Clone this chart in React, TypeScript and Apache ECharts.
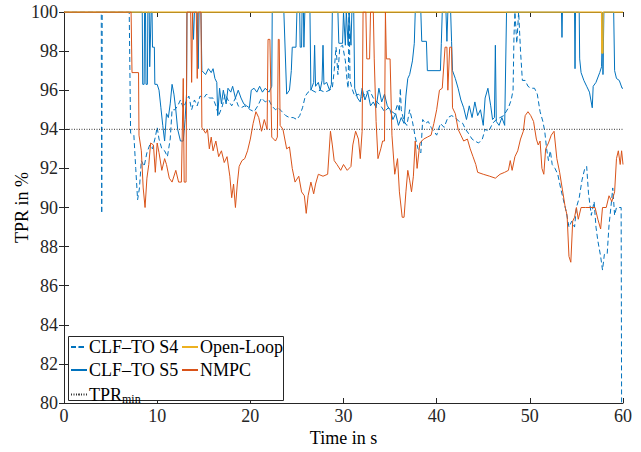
import React, { useEffect, useRef } from "react";
import * as echarts from "echarts";

// ---- data: [time in s, TPR in %] ----
const clfS4: [number, number][] = [
  [0, 100], [4.0, 100], [4.05, 89.7], [4.1, 100], [7.0, 100], [7.15, 93.8], [7.5, 93.7], [7.7, 92.0], [7.9, 90.4],
  [8.1, 91.0], [8.3, 92.4], [8.6, 92.1], [8.9, 92.8], [9.2, 93.2], [9.5, 93.0], [9.8, 93.6], [10.0, 94.1], [10.2, 93.5],
  [10.5, 93.0], [10.8, 92.9], [11.1, 92.6], [11.4, 93.5], [11.6, 95.0], [11.9, 95.0], [12.2, 95.2], [12.5, 95.5],
  [12.8, 95.1], [13.1, 95.4], [13.4, 95.7], [13.7, 95.0], [14.0, 95.5], [14.3, 95.2], [14.6, 95.7], [15.0, 95.6],
  [15.3, 95.8], [15.6, 95.6], [16.0, 95.6], [16.3, 95.2], [16.6, 94.7], [17.0, 95.2], [17.3, 95.8], [17.6, 95.5],
  [18.0, 95.2], [18.4, 95.6], [18.7, 95.2], [19.0, 95.1], [19.4, 95.2], [19.7, 95.1], [20.0, 95.0], [20.4, 94.9],
  [20.8, 95.2], [21.2, 95.6], [21.6, 95.4], [22.0, 95.5], [22.3, 95.2], [22.7, 95.0], [23.0, 95.1], [23.4, 94.9],
  [23.8, 94.7], [24.2, 94.6], [24.6, 94.6], [25.0, 94.5], [25.3, 94.7], [25.6, 95.1], [25.9, 95.7], [26.2, 95.9],
  [26.6, 96.0], [27.0, 95.9], [27.5, 96.0], [28.0, 95.9], [28.5, 96.0], [28.8, 96.1], [29.0, 97.0], [29.2, 98.2],
  [29.4, 96.8], [29.6, 98.2], [29.9, 98.3], [30.2, 97.5], [30.4, 96.4], [30.5, 96.1], [30.6, 100], [30.7, 96.5],
  [30.9, 96.1], [31.2, 95.7], [31.6, 95.8], [32.0, 95.6], [32.4, 95.9], [32.8, 96.0], [33.2, 95.6], [33.6, 95.4],
  [34.0, 95.2], [34.4, 94.9], [34.8, 95.1], [35.2, 94.9], [35.5, 94.8], [35.8, 95.3], [36.0, 94.9], [36.1, 96.1],
  [36.2, 95.0], [36.5, 94.4], [36.8, 94.2], [37.1, 95.0], [37.4, 94.4], [37.7, 93.6], [38.0, 93.0], [38.3, 92.8],
  [38.5, 94.5], [38.8, 94.3], [39.1, 94.4], [39.4, 94.1], [39.7, 93.9], [40.0, 93.7], [40.4, 94.3], [40.8, 94.1],
  [41.2, 94.6], [41.6, 94.7], [42.0, 94.6], [42.4, 94.4], [42.8, 94.3], [43.1, 94.0], [43.4, 93.8], [43.8, 93.5],
  [44.1, 93.4], [44.5, 93.3], [44.9, 93.5], [45.2, 94.0], [45.6, 93.9], [46.0, 94.3], [46.4, 94.5], [46.8, 94.6],
  [47.2, 94.7], [47.7, 95.1], [48.0, 95.5], [48.2, 96.0], [48.3, 98.8], [48.4, 100], [48.6, 98.4], [48.8, 100],
  [49.0, 98.0], [49.2, 96.5], [49.5, 96.5], [49.8, 96.2], [50.1, 96.1], [50.5, 96.1], [50.8, 95.8], [51.1, 94.9],
  [51.4, 94.4], [51.6, 93.9], [51.8, 93.0], [52.0, 92.4], [52.2, 92.9], [52.4, 92.2], [52.7, 92.0], [53.0, 91.7],
  [53.3, 91.0], [53.6, 90.4], [53.9, 89.8], [54.2, 89.0], [54.5, 89.3], [54.8, 89.0], [55.0, 90.0], [55.3, 90.5],
  [55.6, 91.4], [55.9, 92.0], [56.1, 92.1], [56.3, 90.7], [56.6, 89.6], [56.9, 90.3], [57.1, 89.0], [57.3, 88.3],
  [57.6, 87.5], [57.8, 86.8], [58.0, 87.6], [58.3, 87.6], [58.5, 89.1], [58.7, 90.0], [58.9, 91.0], [59.1, 89.6],
  [59.3, 90.0], [59.6, 90.0], [59.8, 90.0], [59.85, 80], [60, 80],
];

const clfS5: [number, number][] = [
  [0, 100], [8.4, 100], [8.45, 96.3], [8.6, 96.3], [8.65, 100], [8.75, 100], [8.8, 96.3], [8.95, 96.3], [9.0, 100],
  [9.15, 100], [9.2, 97.2], [9.35, 100], [9.45, 100], [9.5, 98.2], [9.7, 98.2], [9.75, 96.3], [10.0, 96.3],
  [10.2, 96.0], [10.4, 95.1], [10.6, 94.2], [10.8, 93.4], [11.0, 94.8], [11.2, 94.6], [11.4, 95.3], [11.6, 96.3],
  [11.8, 95.8], [12.0, 95.0], [12.2, 94.0], [12.5, 93.4], [12.8, 93.4], [13.0, 94.5], [13.15, 95.8], [13.2, 100],
  [13.8, 100], [13.9, 98.6], [14.0, 100], [14.3, 100], [14.4, 97.1], [14.5, 100], [14.7, 100], [14.8, 97.0],
  [15.2, 96.8], [15.5, 97.1], [15.8, 96.9], [16.0, 97.1], [16.2, 96.6], [16.4, 96.4], [16.5, 94.7], [16.7, 96.1],
  [16.9, 95.3], [17.1, 96.0], [17.4, 95.3], [17.6, 96.1], [17.9, 95.9], [18.1, 96.2], [18.4, 95.6], [18.7, 96.0],
  [19.0, 95.6], [19.3, 95.3], [19.6, 95.2], [19.9, 95.1], [20.1, 96.0], [20.4, 96.1], [20.7, 95.9], [21.0, 96.2],
  [21.3, 95.9], [21.6, 96.1], [22.0, 95.9], [22.3, 96.2], [22.35, 100], [23.6, 100], [23.9, 95.8], [24.2, 96.0],
  [24.4, 97.0], [24.5, 98.2], [24.9, 98.2], [25.0, 100], [25.3, 100], [25.35, 98.2], [25.5, 98.2], [25.55, 100],
  [25.7, 100], [25.75, 98.2], [25.85, 100], [26.4, 100], [26.5, 96.0], [26.8, 96.4], [26.9, 98.3], [27.0, 96.2],
  [27.3, 96.4], [27.5, 96.0], [27.7, 96.5], [27.8, 98.3], [27.9, 96.3], [28.2, 96.4], [28.5, 96.0], [28.7, 96.3],
  [28.8, 100], [29.4, 100], [29.5, 98.4], [29.9, 98.4], [30.0, 100], [30.2, 98.3], [30.3, 100], [30.5, 98.3],
  [30.6, 100], [30.8, 98.3], [30.9, 100], [31.1, 100], [31.2, 96.1], [31.5, 95.6], [31.8, 95.4], [32.0, 96.1],
  [32.3, 95.5], [32.6, 95.9], [32.9, 95.2], [33.2, 95.4], [33.5, 95.1], [33.8, 96.1], [34.1, 95.4], [34.4, 95.8],
  [34.7, 95.2], [35.0, 95.0], [35.3, 94.5], [35.6, 94.8], [35.9, 94.2], [36.2, 94.6], [36.5, 94.3], [36.7, 95.7],
  [36.9, 96.6], [37.1, 96.8], [37.4, 97.5], [37.6, 98.4], [37.7, 100], [38.3, 100], [38.4, 98.5], [38.9, 98.5],
  [39.0, 97.0], [40.4, 97.0], [40.5, 98.4], [40.6, 100], [41.0, 100], [41.1, 98.5], [41.2, 100], [41.5, 100],
  [41.6, 98.5], [41.7, 97.0], [42.0, 96.6], [42.3, 96.1], [42.6, 95.5], [42.9, 95.1], [43.2, 94.5], [43.5, 95.2],
  [43.8, 94.6], [44.1, 95.4], [44.4, 94.7], [44.7, 95.0], [45.0, 94.2], [45.2, 95.6], [45.5, 96.1], [45.8, 95.2],
  [46.0, 94.5], [46.2, 94.6], [46.3, 98.3], [46.4, 94.4], [46.7, 94.2], [47.0, 94.6], [47.3, 94.2], [47.5, 100],
  [53.4, 100], [53.45, 98.7], [53.5, 100], [54.8, 100], [54.85, 97.1], [54.9, 100], [55.3, 100], [55.35, 97.6],
  [55.5, 96.9], [55.8, 96.5], [56.1, 96.2], [56.4, 95.9], [56.7, 95.1], [56.8, 96.2], [57.1, 96.4], [57.5, 96.9],
  [57.7, 97.2], [57.8, 100], [57.85, 96.8], [57.95, 100], [59.0, 100], [59.1, 97.0], [59.3, 96.6], [59.6, 96.5],
  [59.9, 96.1], [60, 96.1],
];

const openLoop: [number, number][] = [
  [0, 100], [57.7, 100], [57.72, 97.9], [57.85, 97.9], [57.87, 100], [60, 100],
];

const nmpc: [number, number][] = [
  [0, 100], [7.2, 100], [7.3, 96.9], [8.0, 96.9], [8.05, 93.7], [8.3, 92.9], [8.5, 91], [8.7, 90], [8.9, 91.5],
  [9.1, 92.2], [9.3, 93.3], [9.6, 93.2], [9.8, 91.8], [10.0, 93.3], [10.2, 92.8], [10.5, 91.9], [10.8, 92.5],
  [11.0, 92.2], [11.3, 91.5], [11.6, 91.3], [12.0, 91.9], [12.3, 91.3], [12.6, 91.3], [12.8, 96.6], [12.9, 91.3],
  [13.1, 91.3], [13.2, 100], [13.6, 100], [13.7, 96.4], [13.8, 100], [14.2, 100], [14.3, 96.6], [14.4, 100],
  [14.7, 100], [14.8, 94.1], [15.2, 93.8], [15.4, 94.0], [15.6, 93.0], [15.8, 93.6], [16.0, 92.9], [16.3, 93.4],
  [16.6, 92.6], [16.9, 92.9], [17.2, 92.3], [17.5, 92.6], [17.8, 91.6], [18.0, 90.5], [18.2, 91.2], [18.4, 90.0],
  [18.6, 91.2], [18.8, 92.1], [19.1, 92.4], [19.4, 92.5], [19.7, 92.9], [20.0, 93.5], [20.3, 94.3], [20.6, 94.9],
  [20.9, 94.6], [21.2, 93.9], [21.5, 94.5], [21.8, 94.0], [21.9, 98.6], [22.1, 98.6], [22.3, 93.6], [22.7, 93.4],
  [22.9, 93.6], [23.0, 98.6], [23.1, 98.6], [23.2, 94.2], [23.5, 94.0], [23.9, 93.0], [24.2, 93.1], [24.5, 92.0],
  [24.8, 91.3], [25.2, 91.6], [25.5, 90.8], [25.8, 90.6], [26.0, 89.7], [26.2, 90.6], [26.5, 91.3], [26.8, 90.7],
  [27.0, 91.2], [27.3, 91.7], [27.8, 91.6], [28.3, 91.7], [28.6, 93.9], [28.8, 93.2], [29.0, 92.4], [29.3, 92.2],
  [29.7, 91.9], [30.0, 92.2], [30.4, 91.9], [30.8, 92.1], [31.0, 93.2], [31.3, 93.9], [31.6, 93.5], [31.8, 92.5],
  [32.0, 93.9], [32.1, 100], [32.4, 100], [32.5, 97.6], [32.8, 97.6], [32.9, 100], [33.2, 100], [33.3, 97.6],
  [33.5, 94.4], [33.7, 92.5], [34.0, 93.0], [34.2, 93.4], [34.4, 93.4], [34.5, 100], [34.6, 97.6], [35.0, 97.6],
  [35.2, 93.7], [35.5, 91.7], [35.8, 92.5], [36.0, 90.8], [36.3, 89.5], [36.5, 89.5], [36.7, 90.8], [36.9, 91.9],
  [37.1, 91.4], [37.3, 90.8], [37.5, 91.6], [37.7, 93.4], [37.9, 92.0], [38.2, 93.3], [38.6, 93.5], [39.0, 93.6],
  [39.4, 93.7], [39.7, 94.3], [40.0, 95.0], [40.3, 96.0], [40.6, 96.1], [40.9, 98.2], [41.1, 98.2], [41.2, 96.0],
  [41.4, 98.2], [41.6, 98.2], [41.7, 95.1], [42.0, 94.8], [42.3, 94.0], [42.6, 93.7], [42.9, 93.4], [43.3, 93.5],
  [43.6, 93.0], [43.9, 92.6], [44.2, 92.2], [44.4, 91.8], [45.0, 91.7], [45.7, 91.6], [46.3, 91.5], [46.8, 91.7],
  [47.3, 91.8], [47.7, 91.9], [47.9, 92.4], [48.1, 91.9], [48.4, 92.6], [48.7, 92.9], [49.0, 93.5], [49.3, 93.9],
  [49.5, 94.7], [49.8, 94.9], [50.1, 94.7], [50.4, 94.4], [50.7, 93.5], [50.9, 93.2], [51.1, 93.4], [51.3, 92.0],
  [51.5, 91.7], [51.7, 93.0], [52.0, 93.3], [52.3, 93.7], [52.6, 93.9], [52.9, 92.5], [53.2, 91.8], [53.5, 90.9],
  [53.8, 90.0], [54.0, 89.6], [54.2, 87.5], [54.4, 87.2], [54.6, 89.3], [54.8, 89.5], [55.0, 90.0], [55.2, 89.4],
  [55.5, 90.0], [56.0, 90.0], [56.5, 90.0], [57.0, 90.0], [57.3, 89.4], [57.6, 88.9], [57.8, 90.0], [58.2, 90.0],
  [58.5, 90.6], [58.8, 90.3], [59.1, 90.8], [59.3, 92.5], [59.5, 92.9], [59.7, 92.2], [59.85, 92.9], [60, 92.2],
];

const tprMin: [number, number][] = [[0, 94], [60, 94]];

const seriesNames = ["CLF–TO S4", "CLF–TO S5", "TPRmin", "Open-Loop", "NMPC"];
const xRange = [0, 60];
const yRange = [80, 100];
const xStep = 10;
const yStep = 2;

const FONT = "Liberation Serif";
const FS = 18;
const AX = "#262626";
const BLUE = "#0072BD";
const ORANGE = "#D95319";
const YELLOW = "#EDB120";

export default function App() {
  const ref = useRef<HTMLDivElement>(null);
  useEffect(() => {
    if (!ref.current) return;
    const chart = echarts.init(ref.current, undefined, { renderer: "svg" });
    const axisCommon = {
      type: "value" as const,
      axisLine: { show: true, lineStyle: { color: AX, width: 1 } },
      axisTick: { show: true, inside: true, length: 5, lineStyle: { color: AX } },
      splitLine: { show: false },
    };
    const legendText = {
      fontFamily: FONT,
      fontSize: FS,
      color: "#000",
      lineHeight: 16,
      padding: [0, 0, 0, -3],
      rich: {
        a: { fontFamily: FONT, fontSize: FS, lineHeight: 16, color: "#000" },
        b: { fontFamily: FONT, fontSize: 12, lineHeight: 16, color: "#000", padding: [9, 0, 0, 0] },
      },
    };
    const legendFormatter = (n: string) => (n === "TPRmin" ? "{a|TPR}{b|min}" : n);
    chart.setOption({
      animation: false,
      grid: {
        left: 64, top: 12, right: 18, bottom: 49,
        containLabel: false,
        outerBoundsMode: "none",
      },
      xAxis: [
        {
          ...axisCommon,
          min: xRange[0],
          max: xRange[1],
          interval: xStep,
          name: "Time in s",
          nameLocation: "middle",
          nameGap: 26,
          nameMoveOverlap: false,
          nameTextStyle: { fontFamily: FONT, fontSize: FS, color: "#000" },
          axisLabel: { fontFamily: FONT, fontSize: FS, color: AX, margin: 4 },
        },
        {
          ...axisCommon,
          position: "top",
          min: xRange[0],
          max: xRange[1],
          interval: xStep,
          axisLabel: { show: false },
        },
      ],
      yAxis: [
        {
          ...axisCommon,
          min: yRange[0],
          max: yRange[1],
          interval: yStep,
          name: "TPR in %",
          nameLocation: "middle",
          nameGap: 33,
          nameMoveOverlap: false,
          nameTextStyle: { fontFamily: FONT, fontSize: FS, color: "#000" },
          axisLabel: { fontFamily: FONT, fontSize: FS, color: AX, margin: 6 },
        },
        {
          ...axisCommon,
          position: "right",
          min: yRange[0],
          max: yRange[1],
          interval: yStep,
          axisLabel: { show: false },
        },
      ],
      legend: [
        {
          data: [seriesNames[0], seriesNames[1], seriesNames[2]],
          orient: "vertical",
          left: 70,
          top: 338,
          itemWidth: 16,
          itemHeight: 2,
          itemGap: 5,
          padding: 0,
          formatter: legendFormatter,
          textStyle: legendText,
        },
        {
          data: [seriesNames[3], seriesNames[4]],
          orient: "vertical",
          left: 181,
          top: 338,
          itemWidth: 16,
          itemHeight: 2,
          itemGap: 5,
          padding: 0,
          formatter: legendFormatter,
          textStyle: legendText,
        },
      ],
      graphic: [
        {
          type: "rect",
          z: 3,
          shape: { x: 68.5, y: 336.5, width: 215, height: 64 },
          style: { fill: "#fff", stroke: AX, lineWidth: 1 },
        },
      ],
      series: [
        {
          name: seriesNames[0],
          type: "line",
          data: clfS4,
          showSymbol: false,
          symbol: "none",
          lineStyle: { color: BLUE, width: 1, type: [5, 3] },
          itemStyle: { color: BLUE },
        },
        {
          name: seriesNames[1],
          type: "line",
          data: clfS5,
          showSymbol: false,
          symbol: "none",
          lineStyle: { color: BLUE, width: 1 },
          itemStyle: { color: BLUE },
        },
        {
          name: seriesNames[2],
          type: "line",
          data: tprMin,
          showSymbol: false,
          symbol: "none",
          lineStyle: { color: "#333", width: 1, type: [1, 1.5] },
          itemStyle: { color: "#333" },
        },
        {
          name: seriesNames[3],
          type: "line",
          data: openLoop,
          showSymbol: false,
          symbol: "none",
          lineStyle: { color: YELLOW, width: 1.3 },
          itemStyle: { color: YELLOW },
        },
        {
          name: seriesNames[4],
          type: "line",
          data: nmpc,
          showSymbol: false,
          symbol: "none",
          lineStyle: { color: ORANGE, width: 1 },
          itemStyle: { color: ORANGE },
        },
      ],
    });
    return () => chart.dispose();
  }, []);
  return (
    <div
      ref={ref}
      style={{ position: "fixed", left: 0, top: 0, width: 641, height: 452, background: "#fff" }}
    />
  );
}
